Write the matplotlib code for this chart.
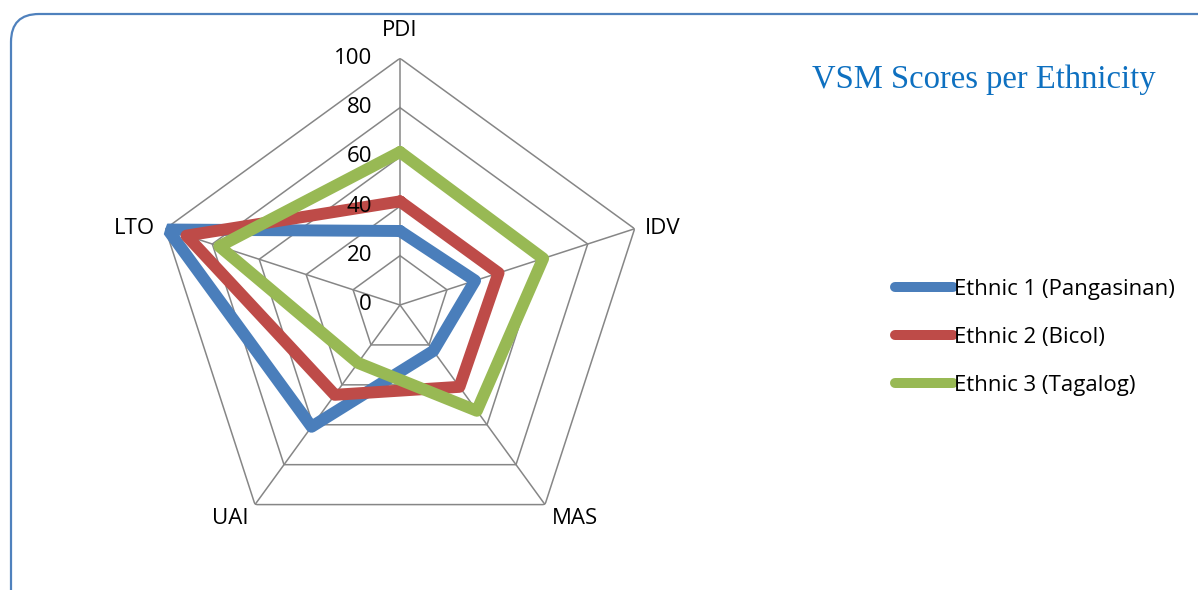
import numpy as np
import matplotlib.pyplot as plt
from matplotlib.patches import FancyBboxPatch
from matplotlib.lines import Line2D

# Data
dimensions = ["PDI", "IDV", "MAS", "UAI", "LTO"]
ethnic1 = [30, 32, 23, 61, 99]   # Pangasinan
ethnic2 = [42, 42, 41, 45, 91]   # Bicol
ethnic3 = [62, 61, 53, 29, 77]   # Tagalog
series_names = ["Ethnic 1 (Pangasinan)", "Ethnic 2 (Bicol)", "Ethnic 3 (Tagalog)"]
series_colors = ["#4A7EBB", "#BE4B48", "#98B954"]
ticks = [0, 20, 40, 60, 80, 100]

W, H = 1198, 590
fig = plt.figure(figsize=(W / 100, H / 100), dpi=100)
font = "Open Sans"
fs = 16

# rounded border, pixel space background axes
bg = fig.add_axes([0, 0, 1, 1])
bg.set_xlim(0, W)
bg.set_ylim(H, 0)
bg.axis("off")
bg.add_patch(FancyBboxPatch((11, 14), W + 40, H + 40,
                            boxstyle="round,pad=0,rounding_size=28",
                            fc="white", ec="#4F81BD", lw=1.6))

# radar axes
cx, cy, R = 400, 305, 246.7
ax = fig.add_axes([(cx - R) / W, (H - cy - R) / H, 2 * R / W, 2 * R / H],
                  projection="polar")
ax.set_theta_offset(np.pi / 2)
ax.set_theta_direction(-1)
ax.set_ylim(0, 100)
ax.grid(False)
ax.spines["polar"].set_visible(False)
ax.set_xticks([])
ax.set_yticks([])
ax.patch.set_alpha(0)

n = len(dimensions)
theta = np.linspace(0, 2 * np.pi, n, endpoint=False)
theta_c = np.append(theta, theta[0])

grid_color = "#868686"
for t in ticks[1:]:
    ax.plot(theta_c, [t] * (n + 1), color=grid_color, lw=1.1, zorder=1)
for th in theta:
    ax.plot([th, th], [0, 100], color=grid_color, lw=1.1, zorder=1)

for vals, col in zip([ethnic1, ethnic2, ethnic3], series_colors):
    v = np.append(vals, vals[0])
    ax.plot(theta_c, v, color=col, lw=8.6, solid_joinstyle="round",
            solid_capstyle="round", zorder=3)

# value tick labels along PDI axis
for t in ticks:
    ax.annotate(str(t), xy=(0, t), xytext=(-28, 0), textcoords="offset pixels",
                ha="right", va="center", fontsize=fs, family=font,
                annotation_clip=False)

# category labels
offsets = [(0, 28, "center", "center"), (10, 0, "left", "center"),
           (30, -14, "center", "center"), (-25, -14, "center", "center"),
           (-10, 0, "right", "center")]
for th, lab, (dx, dy, ha, va) in zip(theta, dimensions, offsets):
    ax.annotate(lab, xy=(th, 100), xytext=(dx, dy), textcoords="offset pixels",
                ha=ha, va=va, fontsize=fs, family=font, annotation_clip=False)

# title
fig.text(984 / W, 1 - 80 / H, "VSM Scores per Ethnicity", ha="center", va="center",
         fontsize=23.5, family="Liberation Serif", color="#0E70C0")

# legend
handles = [Line2D([], [], color=c, lw=7.2, solid_capstyle="round") for c in series_colors]
fig.legend(handles, series_names, loc="upper left",
           bbox_to_anchor=(895 / W, 1 - 279 / H), frameon=False,
           prop={"family": font, "size": fs}, handlelength=2.6,
           handletextpad=0.05, labelspacing=1.22, borderpad=0, borderaxespad=0)

fig.savefig("out.png", dpi=100)
